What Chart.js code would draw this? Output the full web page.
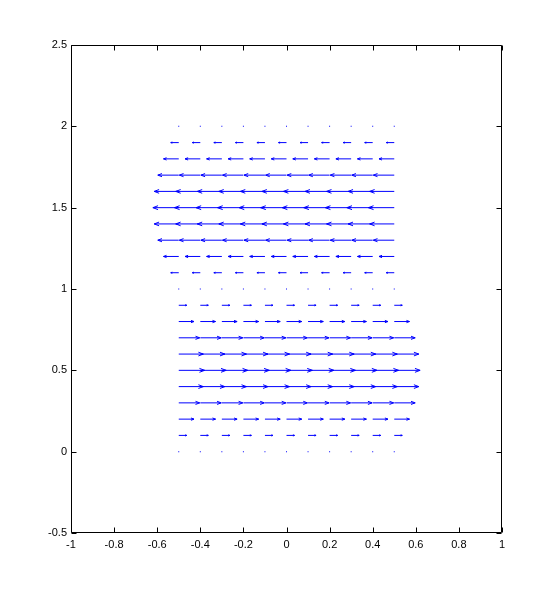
<!DOCTYPE html>
<html>
<head>
<meta charset="utf-8">
<script src="https://cdn.jsdelivr.net/npm/chart.js@4.4.1/dist/chart.umd.min.js"></script>
<style>
  html, body { margin: 0; padding: 0; background: #fff; }
  canvas { display: block; }
</style>
</head>
<body>
<canvas id="chart" width="554" height="600"></canvas>
<script>
// grid of arrow origins
const xGrid = [-0.5, -0.4, -0.3, -0.2, -0.1, 0, 0.1, 0.2, 0.3, 0.4, 0.5];
const yGrid = [0, 0.1, 0.2, 0.3, 0.4, 0.5, 0.6, 0.7, 0.8, 0.9, 1.0,
               1.1, 1.2, 1.3, 1.4, 1.5, 1.6, 1.7, 1.8, 1.9, 2.0];
// horizontal velocity for each row (same along a row), v is zero everywhere
const uRow = [0, 0.31, 0.59, 0.81, 0.95, 1.0, 0.95, 0.81, 0.59, 0.31, 0,
              -0.31, -0.59, -0.81, -0.95, -1.0, -0.95, -0.81, -0.59, -0.31, 0];
const arrowScale = 0.12;   // quiver autoscale factor

const xTicks = [-1, -0.8, -0.6, -0.4, -0.2, 0, 0.2, 0.4, 0.6, 0.8, 1];
const yTicks = [-0.5, 0, 0.5, 1, 1.5, 2, 2.5];

const BLUE = '#0000ff';

// build line segments (null breaks the line between arrows)
const shafts = [], heads = [], dots = [];
yGrid.forEach((y, r) => {
	const L = uRow[r] * arrowScale;
	xGrid.forEach(x => {
		if (L === 0) { dots.push({x, y}); return; }
		const tip = x + L;
		const back = tip - 0.2 * L;
		const w = 0.1 * Math.abs(L);
		shafts.push({x, y}, {x: tip, y}, {x: tip, y: null});
		heads.push({x: back, y: y + w}, {x: tip, y}, {x: back, y: y - w}, {x: back, y: null});
	});
});

const boxTicks = {
	id: 'boxTicks',
	afterDatasetsDraw(chart) {
		const {ctx, chartArea: a, scales} = chart;
		const L = Math.round(a.left) + 0.5, R = Math.round(a.right) - 0.5;
		const T = Math.round(a.top) + 0.5, B = Math.round(a.bottom) - 0.5;
		ctx.save();
		ctx.strokeStyle = '#000';
		ctx.lineWidth = 1;
		ctx.beginPath();
		ctx.rect(L, T, R - L, B - T);
		const tl = 5;
		xTicks.forEach(v => {
			const px = Math.round(scales.x.getPixelForValue(v)) + 0.5;
			ctx.moveTo(px, B); ctx.lineTo(px, B - tl);
			ctx.moveTo(px, T); ctx.lineTo(px, T + tl);
		});
		yTicks.forEach(v => {
			const py = Math.round(scales.y.getPixelForValue(v)) + 0.5;
			ctx.moveTo(L, py); ctx.lineTo(L + tl, py);
			ctx.moveTo(R, py); ctx.lineTo(R - tl, py);
		});
		ctx.stroke();
		ctx.restore();
	}
};

const tickFont = { family: 'Liberation Sans, Arial, sans-serif', size: 11 };

new Chart(document.getElementById('chart'), {
	type: 'scatter',
	data: {
		datasets: [
			{ data: shafts, showLine: true, spanGaps: false, borderColor: BLUE, borderWidth: 1, pointRadius: 0 },
			{ data: heads, showLine: true, spanGaps: false, borderColor: BLUE, borderWidth: 1, pointRadius: 0 },
			{ data: dots, showLine: false, pointRadius: 0.7, pointStyle: 'rect', backgroundColor: BLUE, borderWidth: 0 }
		]
	},
	options: {
		responsive: false,
		animation: false,
		layout: { padding: { top: 45, right: 52, left: 0, bottom: 0 } },
		plugins: { legend: { display: false }, tooltip: { enabled: false } },
		scales: {
			x: {
				type: 'linear', min: -1, max: 1,
				afterBuildTicks: s => { s.ticks = xTicks.map(v => ({value: v})); },
				afterFit: s => { s.height = 67; },
				grid: { display: false, drawTicks: false },
				border: { display: false },
				ticks: { color: '#000', font: tickFont, padding: 5, maxRotation: 0, autoSkip: false,
				         callback: v => String(Math.round(v * 10) / 10) }
			},
			y: {
				type: 'linear', min: -0.5, max: 2.5,
				afterBuildTicks: s => { s.ticks = yTicks.map(v => ({value: v})); },
				afterFit: s => { s.width = 71; },
				grid: { display: false, drawTicks: false },
				border: { display: false },
				ticks: { color: '#000', font: tickFont, padding: 4, autoSkip: false,
				         callback: v => String(Math.round(v * 10) / 10) }
			}
		}
	},
	plugins: [boxTicks]
});
</script>
</body>
</html>
